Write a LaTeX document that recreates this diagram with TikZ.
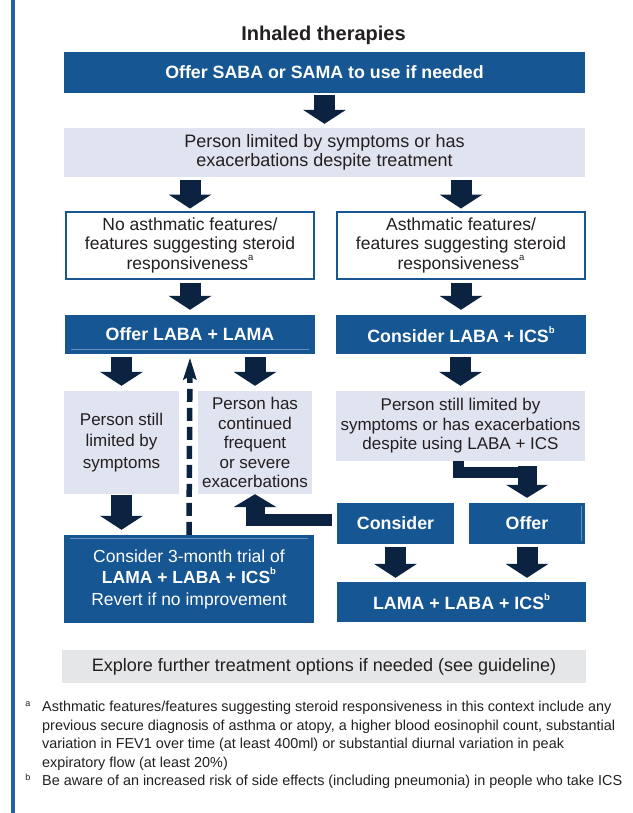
\documentclass[tikz,border=0pt]{standalone}
\usepackage{fontspec}
\setmainfont{Liberation Sans}
\usetikzlibrary{arrows.meta,calc}

\definecolor{nhsblue}{RGB}{22,86,146}
\definecolor{navy}{RGB}{11,35,64}
\definecolor{lav}{RGB}{224,227,240}
\definecolor{greybox}{RGB}{229,230,231}
\definecolor{rulebl}{RGB}{40,96,165}
\definecolor{ink}{RGB}{35,31,32}
\definecolor{hair}{RGB}{105,142,190}

% small raised footnote marker
\newcommand\fnmark[1]{\raisebox{0.5em}{\fontsize{9.5}{9.5}\selectfont #1}}

\tikzset{
  fs/.style={font=\fontsize{#1}{19.5}\selectfont},
  dbox/.style={fill=nhsblue, text=white, inner sep=0pt, align=center,
    font=\bfseries\fontsize{17.8}{19.5}\selectfont},
  dboxr/.style={fill=nhsblue, text=white, inner sep=0pt, align=center,
    font=\fontsize{17.5}{21.5}\selectfont},
  lbox/.style={fill=lav, text=ink, inner sep=0pt, align=center},
  wbox/.style={draw=nhsblue, line width=2pt, fill=white, text=ink,
    inner sep=0pt, align=center},
  gbox/.style={fill=greybox, text=ink, inner sep=0pt, align=center},
  sz/.style n args={2}{minimum width=#1, minimum height=#2},
  blockarr/.style={draw=navy, line width=21pt, line cap=butt,
    -{Triangle[width=43pt,length=14pt,line width=0pt]}},
  elbowarr/.style={draw=navy, line width=19pt, line cap=butt,
    -{Triangle[width=42pt,length=13pt,line width=0pt]}},
  barline/.style={draw=navy, line width=12pt, line cap=butt, line join=miter},
  dasharr/.style={draw=navy, line width=5.5pt, line cap=butt,
    dash pattern=on 13pt off 6pt,
    -{Stealth[width=14pt,length=22pt,inset=4pt,line width=0pt]}},
  foot/.style={text=ink, inner sep=0pt, font=\fontsize{14.4}{18.5}\selectfont},
  fmk/.style={text=ink, inner sep=0pt, font=\fontsize{9}{9}\selectfont},
  hairline/.style={draw=hair, line width=0.7pt}
}

\begin{document}
\begin{tikzpicture}[x=1pt,y=-1pt]
\useasboundingbox (0,0) rectangle (632,813);

% left margin rule
\draw[rulebl, line width=4pt] (13,0) -- (13,813);

% heading
\node[text=ink, font=\bfseries\fontsize{20}{22}\selectfont] (title) at (323.5,35) {Inhaled therapies};

% boxes
\node[dbox, sz={521pt}{41pt}] (b1) at (324.5,72.5) {Offer SABA or SAMA to use if needed};
\node[lbox, fs=18, sz={521pt}{49pt}] (b2) at (324.5,152.5) {Person limited by symptoms or has\\exacerbations despite treatment};

\node[wbox, fs=17.5, sz={248pt}{67pt}] (b3L) at (190,245) {No asthmatic features/\\features suggesting steroid\\responsiveness\fnmark{a}};
\node[wbox, fs=17.5, sz={248pt}{67pt}] (b3R) at (461,245) {Asthmatic features/\\features suggesting steroid\\responsiveness\fnmark{a}};

\node[dbox, sz={250pt}{39pt}] (b4L) at (190,334.5) {Offer LABA + LAMA};
\node[dbox, sz={250pt}{39pt}] (b4R) at (461,334.5) {Consider LABA + ICS\fnmark{b}};

\node[lbox, sz={115pt}{103pt}, font=\fontsize{17}{21.5}\selectfont] (b5a) at (121.5,442.5) {Person still\\limited by\\symptoms};
\node[lbox, fs=17, sz={114pt}{103pt}] (b5b) at (255,442.5) {Person has\\continued\\frequent\\or severe\\exacerbations};
\node[lbox, fs=17, sz={249pt}{70pt}] (b5c) at (460.5,426) {Person still limited by\\symptoms or has exacerbations\\despite using LABA + ICS};

\node[dbox, sz={117pt}{41pt}] (cbox) at (395.5,523.5) {Consider};
\node[dbox, sz={116pt}{41pt}] (obox) at (527,523.5) {Offer};

\node[dboxr, sz={250pt}{88pt}] (b6L) at (189,579) {Consider 3-month trial of\\\textbf{LAMA + LABA + ICS\fnmark{b}}\\Revert if no improvement};
\node[dbox, sz={249pt}{40pt}] (b6R) at (461.5,602) {LAMA + LABA + ICS\fnmark{b}};

\node[gbox, fs=18, sz={524pt}{33pt}] (b7) at (324,666.5) {Explore further treatment options if needed (see guideline)};

% faint inner rules on some blue boxes
\draw[hairline] ([xshift=6pt,yshift=5pt]b4L.south west) -- ([xshift=-6pt,yshift=5pt]b4L.south east);
\draw[hairline] ([xshift=6pt,yshift=-4pt]b6L.north west) -- ([xshift=-6pt,yshift=-4pt]b6L.north east);
\draw[hairline] ([xshift=-4pt,yshift=-3pt]obox.north east) -- ([xshift=-4pt,yshift=3pt]obox.south east);

% straight block arrows
\draw[blockarr, shorten <=2pt, shorten >=4pt] (b1.south) -- (b2.north);
\draw[blockarr, shorten <=3pt, shorten >=2pt] (b2.south -| b3L.north) -- (b3L.north);
\draw[blockarr, shorten <=3pt, shorten >=2pt] (b2.south -| b3R.north) -- (b3R.north);
\draw[blockarr, shorten <=3pt, shorten >=5pt] (b3L.south) -- (b4L.north);
\draw[blockarr, shorten <=3pt, shorten >=5pt] (b3R.south) -- (b4R.north);
\draw[blockarr, shorten <=3pt, shorten >=5pt] (b4L.south -| b5a.north) -- (b5a.north);
\draw[blockarr, shorten <=3pt, shorten >=5pt] (b4L.south -| b5b.north) -- (b5b.north);
\draw[blockarr, shorten <=3pt, shorten >=5pt] (b4R.south -| b5c.north) -- (b5c.north);
\draw[blockarr, shorten <=1pt, shorten >=5pt] (b5a.south) -- (b5a.south |- b6L.north);
\draw[blockarr, shorten <=3pt, shorten >=4pt] (cbox.south) -- (cbox.south |- b6R.north);
\draw[blockarr, shorten <=3pt, shorten >=4pt] (obox.south) -- (obox.south |- b6R.north);

% dashed return arrow
\draw[dasharr, shorten >=4pt] (b6L.north) -- (b4L.south);

% elbow: still limited on LABA + ICS -> Offer
\coordinate (e1) at (458,472);
\coordinate (e2) at (532,472);
\coordinate (e3) at (0,466);
\draw[barline, line width=11pt] (b5c.south -| e1) -- (e1) -- (e2);
\draw[elbowarr, shorten >=5pt] (obox.north |- e3) -- (obox.north);

% elbow: Consider -> frequent exacerbations
\coordinate (e4) at (245.5,520);
\coordinate (e5) at (0,526);
\draw[barline, shorten <=5pt] (cbox.west |- e4) -- (e4);
\draw[elbowarr, -{Triangle[width=43pt,length=13pt,line width=0pt]}] (b5b.south |- e5) -- (b5b.south);

% footnotes
\node[fmk, anchor=base] (ma) at (28,706) {a};
\node[foot, anchor=base west] (f1) at (42,711.5) {Asthmatic features/features suggesting steroid responsiveness in this context include any};
\node[foot, anchor=base west] (f2) at (42,730) {previous secure diagnosis of asthma or atopy, a higher blood eosinophil count, substantial};
\node[foot, anchor=base west] (f3) at (42,748.5) {variation in FEV1 over time (at least 400ml) or substantial diurnal variation in peak};
\node[foot, anchor=base west] (f4) at (42,767) {expiratory flow (at least 20\%)};
\node[fmk, anchor=base] (mb) at (28,780) {b};
\node[foot, anchor=base west] (f5) at (42,785.5) {Be aware of an increased risk of side effects (including pneumonia) in people who take ICS};
\end{tikzpicture}
\end{document}
